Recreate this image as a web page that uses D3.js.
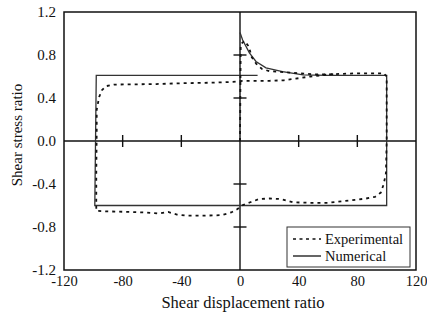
<!DOCTYPE html>
<html><head><meta charset="utf-8">
<script src="https://cdn.jsdelivr.net/npm/d3@7"></script>
<style>body{margin:0;background:#fff}svg text{font-family:"Liberation Serif","Times New Roman",serif;fill:#111}</style>
</head><body><svg id="c" width="427" height="321"></svg>
<script>
const xTicks = [-120,-80,-40,0,40,80,120];
const yTicks = [-1.2,-0.8,-0.4,0.0,0.4,0.8,1.2];
const innerXTicks = [-80,-40,40,80];
const innerYTicks = [-0.8,-0.4,0.4,0.8];
const numX = [0,1.8,6.4,10.9,17.7,29,43,60,80,100,100,-99,-98,12];
const numY = [1.01,0.94,0.82,0.74,0.68,0.645,0.615,0.61,0.61,0.61,-0.60,-0.60,0.61,0.61];
const expX = [0,0.5,3,6,8,11,15,20,30,40,50,60,70,80,90,98,100,100,100,99.5,98,96,92,86,80,70,60,48,36,28,20,13,7,2,-2,-6,-13,-25,-36,-43,-49,-55,-64,-75,-90,-98,-98,-97.7,-97.7,-96,-94.3,-91.4,-86,-70,-57,-41,-18,-5,3,20,30,38,48,57,65];
const expY = [0,0.9,0.93,0.88,0.78,0.72,0.67,0.65,0.64,0.63,0.62,0.62,0.625,0.63,0.63,0.63,0.6,0.3,0,-0.3,-0.4,-0.48,-0.52,-0.535,-0.545,-0.56,-0.575,-0.575,-0.57,-0.54,-0.535,-0.54,-0.57,-0.595,-0.635,-0.665,-0.69,-0.695,-0.695,-0.685,-0.66,-0.675,-0.665,-0.66,-0.655,-0.65,-0.3,0.1,0.29,0.41,0.47,0.51,0.525,0.527,0.53,0.537,0.543,0.55,0.56,0.56,0.565,0.58,0.6,0.614,0.625];
const legendLabels = ["Experimental","Numerical"];

const svg = d3.select("#c");
const L=64,R=416,T=12,B=270;
const x = d3.scaleLinear().domain([-120,120]).range([L,R]);
const y = d3.scaleLinear().domain([-1.2,1.2]).range([B,T]);

svg.append("rect").attr("x",L).attr("y",T).attr("width",R-L).attr("height",B-T)
  .attr("fill","none").attr("stroke","#111").attr("stroke-width",1.5);

svg.append("line").attr("x1",L).attr("x2",R).attr("y1",y(0)).attr("y2",y(0)).attr("stroke","#111").attr("stroke-width",1.4);
svg.append("line").attr("x1",x(0)).attr("x2",x(0)).attr("y1",T).attr("y2",B).attr("stroke","#111").attr("stroke-width",1.4);
innerXTicks.forEach(v=>svg.append("line").attr("x1",x(v)).attr("x2",x(v)).attr("y1",y(0)-6).attr("y2",y(0)+6).attr("stroke","#111").attr("stroke-width",1.4));
innerYTicks.forEach(v=>svg.append("line").attr("x1",x(0)-6.5).attr("x2",x(0)+6.5).attr("y1",y(v)).attr("y2",y(v)).attr("stroke","#111").attr("stroke-width",1.4));

const hy = f => d => f(d).replace("\u2212","-");
const xa = svg.append("g").attr("transform",`translate(0,${B})`)
  .call(d3.axisBottom(x).tickValues(xTicks).tickSize(0).tickPadding(6).tickFormat(hy(d3.format("d"))));
xa.select(".domain").remove();
xa.selectAll("text").attr("font-size",14.5).attr("fill","#111");
const ya = svg.append("g").attr("transform",`translate(${L-1},0)`)
  .call(d3.axisLeft(y).tickValues(yTicks).tickSize(0).tickPadding(7).tickFormat(hy(d3.format(".1f"))));
ya.select(".domain").remove();
ya.selectAll("text").attr("font-size",15).attr("fill","#111");

svg.append("text").attr("x",x(0)+3).attr("y",308).attr("text-anchor","middle").attr("font-size",16.5).text("Shear displacement ratio");
svg.append("text").attr("transform",`translate(22,${y(0)-6}) rotate(-90)`).attr("text-anchor","middle").attr("font-size",15).text("Shear stress ratio");

const line = d3.line().x(d=>x(d[0])).y(d=>y(d[1]));
const numData = numX.map((v,i)=>[v,numY[i]]);
const expData = expX.map((v,i)=>[v,expY[i]]);
svg.append("path").attr("d",line(numData)).attr("fill","none").attr("stroke","#333").attr("stroke-width",1.3);
svg.append("path").attr("d",line(expData)).attr("fill","none").attr("stroke","#111").attr("stroke-width",1.8).attr("stroke-dasharray","3,4");

const lg = svg.append("g");
lg.append("rect").attr("x",287).attr("y",227).attr("width",123).attr("height",40).attr("fill","#fff").attr("stroke","#333").attr("stroke-width",1);
lg.append("line").attr("x1",293).attr("x2",321).attr("y1",239).attr("y2",239).attr("stroke","#111").attr("stroke-width",1.6).attr("stroke-dasharray","3,3.5");
lg.append("line").attr("x1",293).attr("x2",321).attr("y1",256).attr("y2",256).attr("stroke","#111").attr("stroke-width",1.3);
legendLabels.forEach((t,i)=>lg.append("text").attr("x",325).attr("y",239+17*i).attr("dy","0.35em").attr("font-size",14.5).text(t));
</script></body></html>
